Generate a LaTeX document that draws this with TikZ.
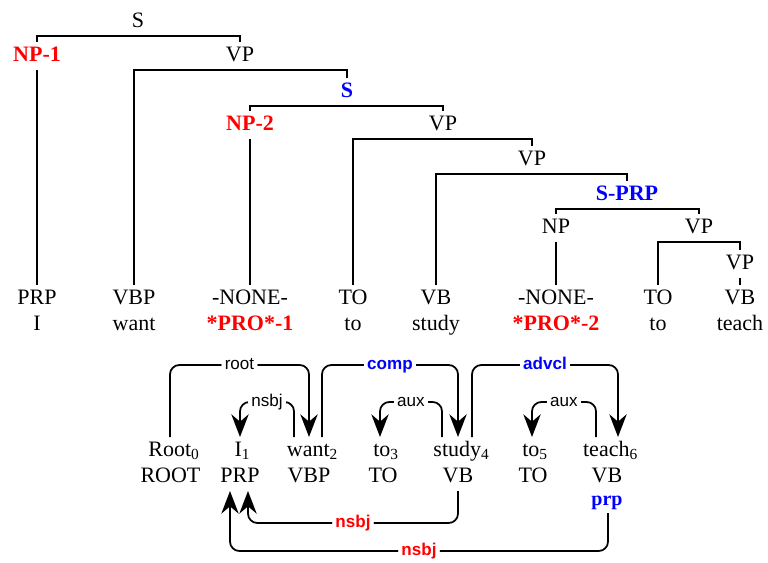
\documentclass[tikz,border=0pt]{standalone}
\usepackage{fontspec}
\setmainfont{Liberation Serif}
\setsansfont{Liberation Sans}
\usetikzlibrary{arrows.meta,calc}
\begin{document}
\begin{tikzpicture}[x=0.75pt, y=-0.75pt, line width=1.3pt,
        every node/.style={font=\fontsize{16.5}{18}\selectfont, inner sep=1.5pt, outer sep=1.5pt, text height=11.5pt, text depth=3.5pt},
        trace/.style={text=red, font=\fontsize{16.5}{18}\selectfont\bfseries},
        clause/.style={text=blue, font=\fontsize{16.5}{18}\selectfont\bfseries},
        dep/.style={rounded corners=7pt, -{Stealth[length=17pt, width=13pt, inset=5.5pt]}},
        lbl/.style={fill=white, inner xsep=2.5pt, inner ysep=1pt, outer sep=0pt, text height=9pt, text depth=2.5pt, font=\fontsize{12.8}{14}\selectfont\sffamily},
        lblb/.style={lbl, font=\fontsize{12.8}{14}\selectfont\sffamily\bfseries}]
    \useasboundingbox (0,0) rectangle (768,563);
    \node (s0) at (138, 22) {S};
    \node[trace] (np1) at (37, 56) {NP-1};
    \node (vp1) at (240, 56) {VP};
    \node[clause] (s1) at (347, 92) {S};
    \node[trace] (np2) at (250, 125) {NP-2};
    \node (vp2) at (443, 125) {VP};
    \node (vp3) at (532, 160) {VP};
    \node[clause] (sprp) at (627, 195) {S-PRP};
    \node (np3) at (556, 228) {NP};
    \node (vp4) at (699, 228) {VP};
    \node (vp5) at (740, 264) {VP};
    \node (pos1) at (37, 299) {PRP};
    \node (pos2) at (134, 299) {VBP};
    \node (pos3) at (250, 299) {-NONE-};
    \node (pos4) at (353, 299) {TO};
    \node (pos5) at (436, 299) {VB};
    \node (pos6) at (556, 299) {-NONE-};
    \node (pos7) at (658, 299) {TO};
    \node (pos8) at (740, 299) {VB};
    \node (tok1) at (37, 325) {I};
    \node (tok2) at (134, 325) {want};
    \node[trace] (tok3) at (250, 325) {*PRO*-1};
    \node (tok4) at (353, 325) {to};
    \node (tok5) at (436, 325) {study};
    \node[trace] (tok6) at (556, 325) {*PRO*-2};
    \node (tok7) at (658, 325) {to};
    \node (tok8) at (740, 325) {teach};
    \draw (np1.north) |- (s0.south) -| (vp1.north);
    \draw (np1) -- (pos1);
    \draw (pos2.north) |- (vp1.south) -| (s1.north);
    \draw (np2.north) |- (s1.south) -| (vp2.north);
    \draw (np2) -- (pos3);
    \draw (pos4.north) |- (vp2.south) -| (vp3.north);
    \draw (pos5.north) |- (vp3.south) -| (sprp.north);
    \draw (np3.north) |- (sprp.south) -| (vp4.north);
    \draw (np3) -- (pos6);
    \draw (pos7.north) |- (vp4.south) -| (vp5.north);
    \draw (vp5) -- (pos8);
    \node (dw0) at (174, 451) {Root\textsubscript{0}};
    \node (dw1) at (242.5, 451) {I\textsubscript{1}};
    \node (dw2) at (312.5, 451) {want\textsubscript{2}};
    \node (dw3) at (386, 451) {to\textsubscript{3}};
    \node (dw4) at (461.5, 451) {study\textsubscript{4}};
    \node (dw5) at (535, 451) {to\textsubscript{5}};
    \node (dw6) at (610.5, 451) {teach\textsubscript{6}};
    \node (dt0) at (170.5, 477) {ROOT};
    \node (dt1) at (240, 477) {PRP};
    \node (dt2) at (309, 477) {VBP};
    \node (dt3) at (383, 477) {TO};
    \node (dt4) at (458, 477) {VB};
    \node (dt5) at (533, 477) {TO};
    \node (dt6) at (607, 477) {VB};
    \node[text=blue, font=\fontsize{15}{16}\selectfont\bfseries, text height=9pt, text depth=3pt] (prp) at (607, 501) {prp};
    \draw[dep] ($(dw0.north)+(-4,0)$) -- ++(0,-72) -| node[pos=0.25, lbl] {root} ($(dw2.north)+(-3.5,0)$);
    \draw[dep] ($(dw2.north)+(9.5,0)$) -- ++(0,-72) -| node[pos=0.25, lblb, text=blue] {comp} ($(dw4.north)+(-3.5,0)$);
    \draw[dep] ($(dw4.north)+(10.5,0)$) -- ++(0,-72) -| node[pos=0.25, lblb, text=blue] {advcl} ($(dw6.north)+(7.5,0)$);
    \draw[dep] ($(dw2.north)+(-18.5,0)$) -- ++(0,-35) -| node[pos=0.25, lbl] {nsbj} ($(dw1.north)+(-2.5,0)$);
    \draw[dep] ($(dw4.north)+(-19.5,0)$) -- ++(0,-35) -| node[pos=0.25, lbl] {aux} ($(dw3.north)+(-6,0)$);
    \draw[dep] ($(dw6.north)+(-14.5,0)$) -- ++(0,-35) -| node[pos=0.25, lbl] {aux} ($(dw5.north)+(-3,0)$);
    \draw[dep] (dt4.south) -- ++(0,32) -| node[pos=0.25, lblb, text=red] {nsbj} ($(dt1.south)+(8,0)$);
    \draw[dep] ($(prp.south)+(1,0)$) -- ++(0,38) -| node[pos=0.25, lblb, text=red] {nsbj} ($(dt1.south)+(-10,0)$);
\end{tikzpicture}
\end{document}
